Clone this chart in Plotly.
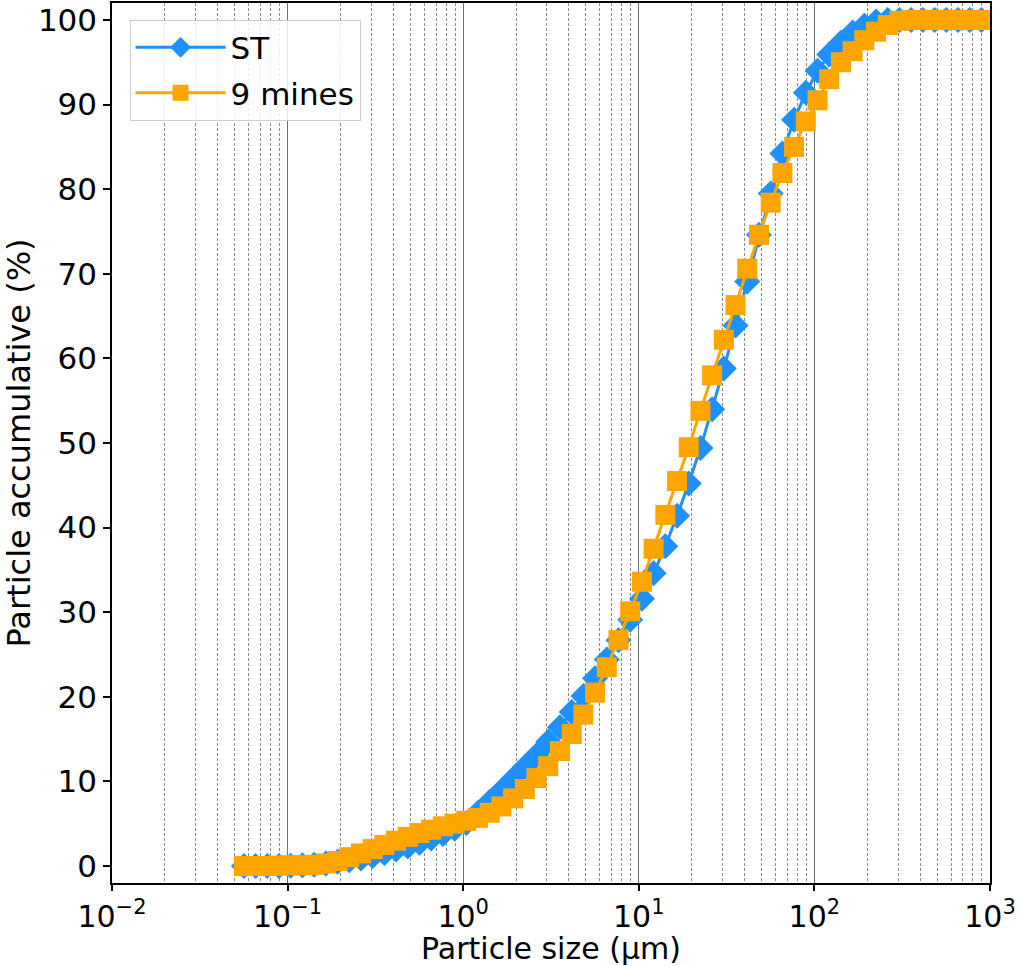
import plotly.graph_objects as go

# Particle size classes (µm)
sizes = [0.0564, 0.0657, 0.0766, 0.0893, 0.1041, 0.1214, 0.1416, 0.1651, 0.1925, 0.2244,
         0.2617, 0.3051, 0.3556, 0.4147, 0.4835, 0.5636, 0.6572, 0.7663, 0.8933, 1.042,
         1.214, 1.416, 1.651, 1.924, 2.244, 2.616, 3.050, 3.556, 4.147, 4.833,
         5.636, 6.572, 7.663, 8.933, 10.42, 12.14, 14.16, 16.51, 19.24, 22.44,
         26.16, 30.50, 35.56, 41.47, 48.33, 56.36, 65.72, 76.63, 89.33, 104.2,
         121.4, 141.6, 165.1, 192.4, 224.4, 261.6, 305.0, 355.6, 414.7, 483.3,
         563.6, 657.2, 766.3, 893.3]

st_values = [0.0, 0.0, 0.0, 0.0, 0.05, 0.1, 0.15, 0.3, 0.5, 0.7,
             0.9, 1.2, 1.55, 1.95, 2.3, 2.75, 3.25, 3.8, 4.4, 5.1,
             6.3, 7.6, 8.9, 10.3, 11.7, 13.1, 14.7, 16.4, 18.2, 20.1,
             22.2, 24.4, 26.7, 29.1, 31.6, 34.6, 37.8, 41.4, 45.2, 49.4,
             54.0, 58.8, 63.9, 69.1, 74.6, 79.5, 84.2, 88.2, 91.4, 94.0,
             95.9, 97.3, 98.5, 99.3, 99.8, 100, 100, 100, 100, 100,
             100, 100, 100, 100]

mines_values = [0.0, 0.0, 0.0, 0.05, 0.1, 0.1, 0.15, 0.3, 0.6, 1.05,
                1.5, 2.0, 2.5, 3.0, 3.45, 3.9, 4.3, 4.7, 5.0, 5.35,
                5.7, 6.3, 7.05, 8.0, 9.1, 10.4, 11.8, 13.6, 15.6, 17.9,
                20.5, 23.5, 26.7, 30.1, 33.6, 37.5, 41.5, 45.5, 49.5, 53.8,
                58.0, 62.2, 66.3, 70.6, 74.6, 78.4, 81.9, 85.0, 88.0, 90.5,
                93.0, 95.0, 96.3, 97.6, 98.6, 99.4, 99.9, 100, 100, 100,
                100, 100, 100, 100]

x_tickvals = [0.01, 0.1, 1, 10, 100, 1000]
x_ticktext = ["10<sup>−2</sup>", "10<sup>−1</sup>", "10<sup>0</sup>",
              "10<sup>1</sup>", "10<sup>2</sup>", "10<sup>3</sup>"]
y_tickvals = [0, 10, 20, 30, 40, 50, 60, 70, 80, 90, 100]

BLUE = "#1E90FF"
ORANGE = "#FFA500"
FONT = "DejaVu Sans"

fig = go.Figure()
fig.add_trace(go.Scatter(
    x=sizes, y=st_values, name="ST", mode="lines+markers", legendgroup="a",
    line=dict(color=BLUE, width=3),
    marker=dict(symbol="diamond", size=20, color=BLUE, line=dict(width=0)),
))
fig.add_trace(go.Scatter(
    x=sizes, y=mines_values, name="9 mines", mode="lines+markers", legendgroup="b",
    line=dict(color=ORANGE, width=3),
    marker=dict(symbol="square", size=20, color=ORANGE, line=dict(width=0)),
))

fig.update_layout(
    width=1020, height=966,
    margin=dict(l=112, r=30, t=3, b=83),
    paper_bgcolor="white", plot_bgcolor="white",
    font=dict(family=FONT, color="black"),
    showlegend=True,
    legend=dict(
        x=0.02, y=0.981, xanchor="left", yanchor="top",
        bgcolor="rgba(255,255,255,0.85)", bordercolor="#cccccc", borderwidth=1,
        font=dict(family=FONT, size=31, color="black"),
        itemwidth=90, tracegroupgap=2,
    ),
    xaxis=dict(
        type="log", range=[-2, 3], automargin=False,
        tickvals=x_tickvals, ticktext=x_ticktext,
        tickfont=dict(size=30, family=FONT),
        ticks="outside", ticklen=6, tickwidth=1.5, tickcolor="black",
        showline=True, linecolor="black", linewidth=1.5, mirror=True,
        showgrid=True, gridcolor="#6e6e6e", gridwidth=1.2,
        minor=dict(showgrid=True, dtick="D1", gridcolor="#8a8a8a", gridwidth=0.8,
                   griddash="3px,2px", ticks=""),
        zeroline=False,
        title=dict(text="Particle size (µm)", font=dict(size=30, family=FONT), standoff=4),
    ),
    yaxis=dict(
        range=[-2, 102], automargin=False,
        tickvals=y_tickvals,
        tickfont=dict(size=31, family=FONT),
        ticks="outside", ticklen=7, tickwidth=1.5, tickcolor="black",
        showline=True, linecolor="black", linewidth=1.5, mirror=True,
        showgrid=False, zeroline=False,
        title=dict(text="Particle accumulative (%)", font=dict(size=32, family=FONT), standoff=8),
    ),
)

fig.write_html("out.html", config={"displayModeBar": False},
               post_script="document.body.style.margin='0';")
